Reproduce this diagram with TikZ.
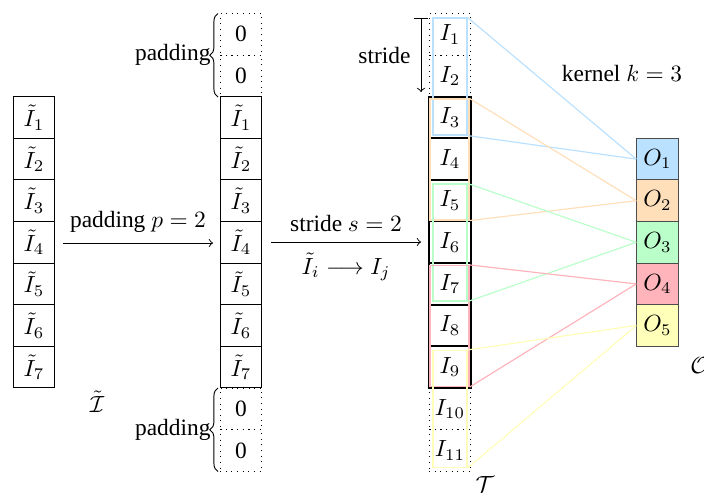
\documentclass[tikz,border=0pt]{standalone}
\usepackage{fontspec}
\setmainfont{Liberation Serif}
\usetikzlibrary{decorations.pathreplacing}
\definecolor{pblue}{HTML}{BAE1FF}
\definecolor{porange}{HTML}{FFDFBA}
\definecolor{pgreen}{HTML}{BAFFC9}
\definecolor{pred}{HTML}{FFB3BA}
\definecolor{pyellow}{HTML}{FFFFBA}
\begin{document}
\begin{tikzpicture}[x=0.4275pt,y=-0.4275pt,
  cell/.style={draw, minimum width=17.78pt, minimum height=17.78pt, inner sep=0pt, line width=0.4pt},
  tcell/.style={cell, line width=0.8pt},
  pad/.style={cell, dotted},
  ocell/.style={cell, draw=black!70},
  kern/.style={draw=#1, inner sep=0pt, line width=0.5pt},
  klink/.style={draw=#1, line width=0.5pt},
  brc/.style={decorate, decoration={brace, amplitude=3.5pt}}]
\useasboundingbox (0,0) rectangle (704,492);
% column 1
\foreach \i in {1,...,7} {
  \node[cell] (a\i) at (34, {96.7+20.8+41.6*(\i-1)}) {$\tilde{I}_{\i}$};
}
\node (alab) at (97,402) {$\tilde{\mathcal{I}}$};
% column 2
\node[pad] (bp1) at (241, 34.3) {0};
\node[pad] (bp2) at (241, 75.9) {0};
\foreach \i in {1,...,7} {
  \node[cell] (b\i) at (241, {96.7+20.8+41.6*(\i-1)}) {$\tilde{I}_{\i}$};
}
\node[pad] (bp3) at (241, 408.8) {0};
\node[pad] (bp4) at (241, 450.4) {0};
% column 3
\node[pad] (c1) at (450, 34.3) {$I_1$};
\node[pad] (c2) at (450, 75.9) {$I_2$};
\foreach \i in {3,...,9} {
  \node[tcell] (c\i) at (450, {96.7+20.8+41.6*(\i-3)}) {$I_{\i}$};
}
\node[pad] (c10) at (450, 408.8) {$I_{10}$};
\node[pad] (c11) at (450, 450.4) {$I_{11}$};
\node (clab) at (485,484) {$\mathcal{T}$};
% output column
\node[ocell, fill=pblue] (o1) at (657.5, 159.1) {$O_1$};
\node[ocell, fill=porange] (o2) at (657.5, 200.7) {$O_2$};
\node[ocell, fill=pgreen] (o3) at (657.5, 242.3) {$O_3$};
\node[ocell, fill=pred] (o4) at (657.5, 283.9) {$O_4$};
\node[ocell, fill=pyellow] (o5) at (657.5, 325.5) {$O_5$};
\node (olab) at (700,365) {$\mathcal{O}$};
% kernels
\node[kern=pblue, minimum width=14.5pt, minimum height=50pt] (k1) at (450, 76.5) {};
\node[kern=porange, minimum width=16.7pt, minimum height=51.7pt] (k2) at (449.5, 159.5) {};
\node[kern=pgreen, minimum width=14.5pt, minimum height=50pt] (k3) at (450, 242.5) {};
\node[kern=pred, minimum width=16.7pt, minimum height=51.7pt] (k4) at (449.5, 326) {};
\node[kern=pyellow, minimum width=14.5pt, minimum height=50pt] (k5) at (450, 409) {};
\foreach \k/\c in {1/pblue,2/porange,3/pgreen,4/pred,5/pyellow} {
  \draw[klink=\c] (k\k.north east) -- (o\k.west);
  \draw[klink=\c] (k\k.south east) -- (o\k.west);
}
% padding braces
\coordinate (pt1) at (218,97);
\coordinate (pt2) at (218,13.5);
\coordinate (pt3) at (218,471.5);
\coordinate (pt4) at (218,388);
\draw[brc] (pt1) -- (pt2) node[midway, left=2pt, inner sep=1pt] (plab1) {padding};
\draw[brc] (pt3) -- (pt4) node[midway, left=2pt, inner sep=1pt] (plab2) {padding};
% arrows
\coordinate (ar1a) at (63,243);
\coordinate (ar1b) at (213,243);
\draw[->] (ar1a) -- (ar1b) node[midway, above=1pt] (ar1l) {padding $p=2$};
\coordinate (ar2a) at (271,242);
\coordinate (ar2b) at (421,242);
\draw[->] (ar2a) -- (ar2b) node[midway, above=1pt] (ar2l) {stride $s=2$}
  node[midway, below=1pt] (ar2m) {$\tilde{I}_i \longrightarrow I_j$};
% stride marker
\coordinate (st1) at (421,18);
\coordinate (st2) at (421,92);
\draw[|->] (st1) -- (st2) node[midway, left=1pt] (stlab) {stride};
\node (klab) at (622,73) {kernel $k=3$};
\end{tikzpicture}
\end{document}
